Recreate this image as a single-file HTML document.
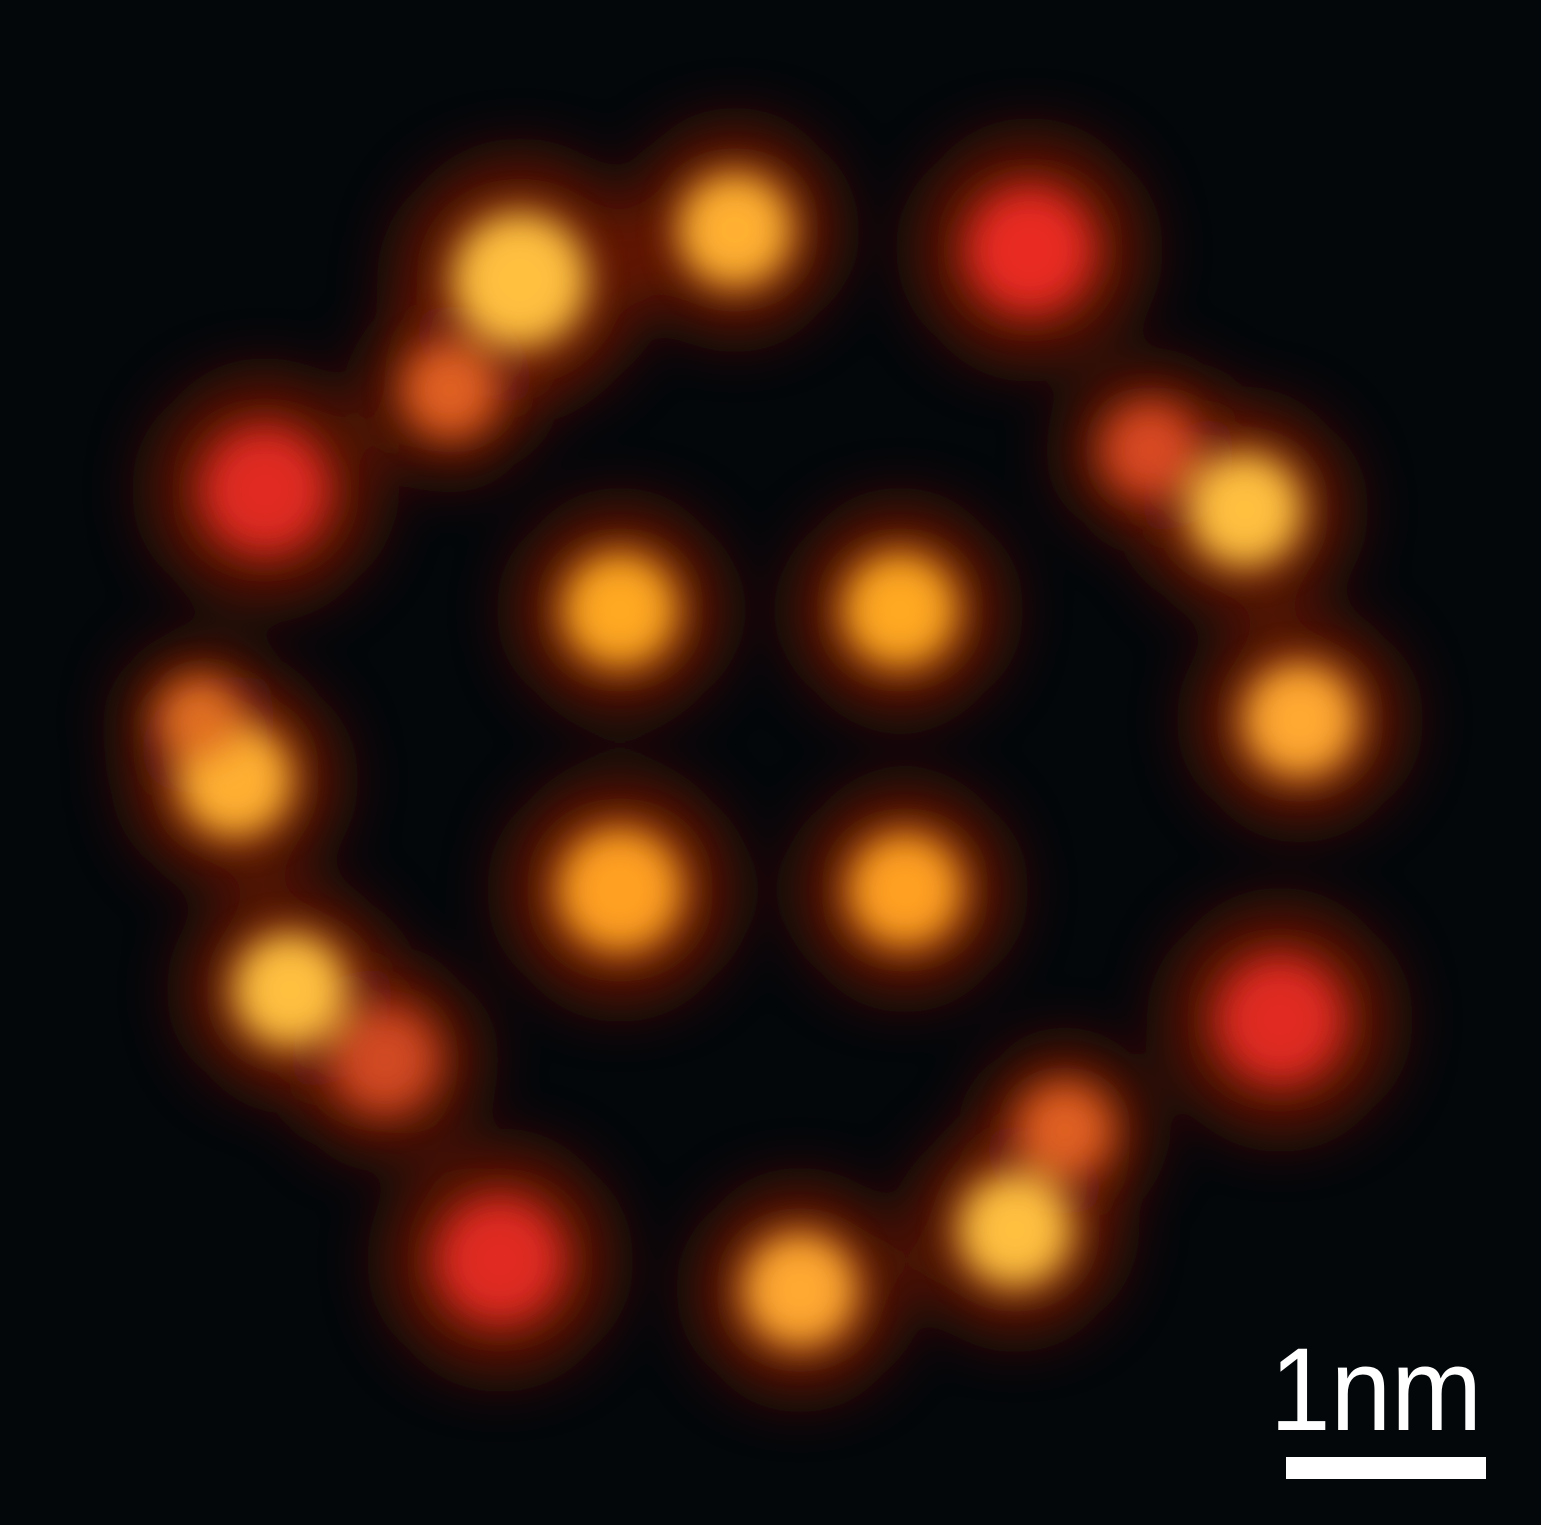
<!DOCTYPE html>
<html><head><meta charset="utf-8">
<style>
html,body{margin:0;padding:0;background:#04070a;}
#wrap{position:relative;width:1541px;height:1525px;overflow:hidden;background:#04070a;}
svg{position:absolute;left:0;top:0;}
</style></head>
<body>
<div id="wrap">
<svg id="img" width="1541" height="1525" viewBox="0 0 1541 1525">
<defs>
<filter id="b1" x="-50%" y="-50%" width="200%" height="200%"><feGaussianBlur stdDeviation="30"/></filter>
<filter id="b2" x="-50%" y="-50%" width="200%" height="200%"><feGaussianBlur stdDeviation="18"/></filter>
</defs>
<g id="halo" filter="url(#b1)"></g>
<g id="core" filter="url(#b2)"></g>
<text x="1270" y="1430" font-family="Liberation Sans, sans-serif" font-size="118" fill="#fff" textLength="212" lengthAdjust="spacingAndGlyphs">1nm</text>
<rect x="1286" y="1457" width="200" height="22" fill="#fff"/>
</svg>
</div>
<script>
const spotX=[620,900,620,905, 520,735,450,1030,265,1150,1245,1300,1280,1065,1015,800,500,385,290,235,200];
const spotY=[610,610,890,890, 280,230,390,250,490,450,510,720,1020,1130,1230,1290,1260,1060,990,780,720];
const spotR=[55,55,60,55, 65,55,45,60,60,45,55,55,60,45,55,55,60,50,55,55,40];
const spotColor=['#ffa820','#ffa820','#ffa020','#ffa020','#ffc040','#ffb030','#e06020','#e82a20','#e02a20','#d84a20','#ffc040','#ffa830','#e02a22','#e06020','#ffc040','#ffa830','#e02a22','#d04a20','#ffc040','#ffb030','#e07020'];
const svgns="http://www.w3.org/2000/svg";
const halo=document.getElementById('halo'), core=document.getElementById('core');
for(let i=0;i<spotX.length;i++){
  const h=document.createElementNS(svgns,'circle');
  h.setAttribute('cx',spotX[i]);h.setAttribute('cy',spotY[i]);h.setAttribute('r',spotR[i]*1.9);
  h.setAttribute('fill','#7a1a08');h.setAttribute('opacity','0.8');
  
  
  halo.appendChild(h);
  const c=document.createElementNS(svgns,'circle');
  c.setAttribute('cx',spotX[i]);c.setAttribute('cy',spotY[i]);c.setAttribute('r',spotR[i]*1.05);
  c.setAttribute('fill',spotColor[i]);
  
  
  core.appendChild(c);
}
</script>
</body></html>
